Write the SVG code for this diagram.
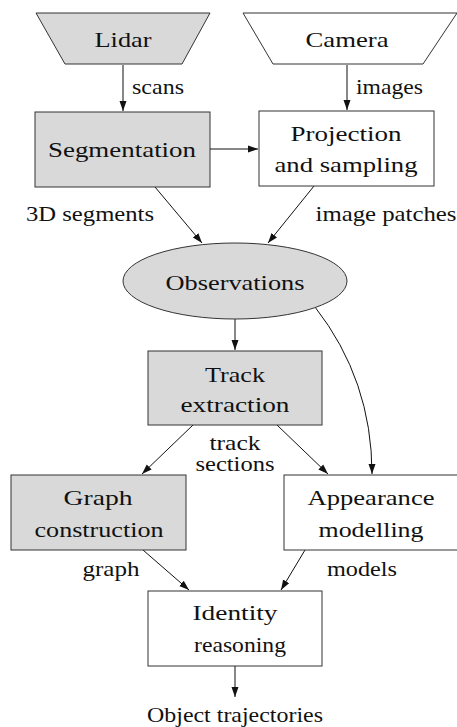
<svg xmlns="http://www.w3.org/2000/svg" width="457" height="727" viewBox="0 0 457 727" font-family="Liberation Serif, Times New Roman, DejaVu Serif, serif">
<style>
text{font-size:22px;fill:#111;text-anchor:middle}
.lbl{text-anchor:start}
.g{fill:#d9d9d9;stroke:#333;stroke-width:1}
.w{fill:#fff;stroke:#333;stroke-width:1}
.c{fill:none;stroke:#111;stroke-width:1;marker-end:url(#ah)}
</style>
<defs>
<marker id="ah" viewBox="0 0 10 10" refX="10" refY="5" markerWidth="10" markerHeight="10" markerUnits="userSpaceOnUse" orient="auto">
<path d="M0,1.5 L10,5 L0,8.5 Z" fill="#111"/>
</marker>
</defs>
<rect width="457" height="727" fill="#fff"/>
<g id="connectors">
<line class="c" x1="123" y1="65" x2="123" y2="111"/>
<line class="c" x1="347" y1="65" x2="347" y2="110"/>
<line class="c" x1="210" y1="149" x2="258" y2="149"/>
<line class="c" x1="155" y1="187" x2="202" y2="243"/>
<line class="c" x1="314" y1="186" x2="268" y2="243"/>
<line class="c" x1="235" y1="319" x2="235" y2="350"/>
<path class="c" d="M315,307 Q372,380 372,474"/>
<line class="c" x1="193" y1="425" x2="142" y2="474"/>
<line class="c" x1="277" y1="425" x2="328" y2="474"/>
<line class="c" x1="143" y1="550" x2="189" y2="590"/>
<line class="c" x1="305" y1="550" x2="281" y2="590"/>
<line class="c" x1="235" y1="666" x2="235" y2="697"/>
<text class="lbl" x="132" y="94" textLength="52" lengthAdjust="spacingAndGlyphs">scans</text>
<text class="lbl" x="356" y="94" textLength="67" lengthAdjust="spacingAndGlyphs">images</text>
<text x="90" y="221" textLength="128" lengthAdjust="spacingAndGlyphs">3D segments</text>
<text x="386" y="221" textLength="141" lengthAdjust="spacingAndGlyphs">image patches</text>
<text x="235" y="450" textLength="51" lengthAdjust="spacingAndGlyphs">track</text>
<text x="235" y="471" textLength="79" lengthAdjust="spacingAndGlyphs">sections</text>
<text x="111" y="576" textLength="57" lengthAdjust="spacingAndGlyphs">graph</text>
<text x="362" y="576" textLength="70" lengthAdjust="spacingAndGlyphs">models</text>
<text x="235" y="722" textLength="176" lengthAdjust="spacingAndGlyphs">Object trajectories</text>
</g>
<g id="lidar">
<polygon class="g" points="36,13 210,13 182,64 65,64"/>
<text x="123" y="47" textLength="57" lengthAdjust="spacingAndGlyphs">Lidar</text>
</g>
<g id="camera">
<polygon class="w" points="243,13 457,13 423,64 273,64"/>
<text x="347" y="47" textLength="83" lengthAdjust="spacingAndGlyphs">Camera</text>
</g>
<g id="segmentation">
<rect class="g" x="35" y="112" width="175" height="75"/>
<text x="122" y="157" textLength="148" lengthAdjust="spacingAndGlyphs">Segmentation</text>
</g>
<g id="projection">
<rect class="w" x="259" y="111" width="175" height="75"/>
<text x="346" y="141" textLength="111" lengthAdjust="spacingAndGlyphs">Projection</text>
<text x="346" y="172" textLength="143" lengthAdjust="spacingAndGlyphs">and sampling</text>
</g>
<g id="observations">
<ellipse class="g" cx="235" cy="281" rx="112" ry="38"/>
<text x="235" y="290" textLength="139" lengthAdjust="spacingAndGlyphs">Observations</text>
</g>
<g id="track">
<rect class="g" x="148" y="351" width="174" height="74"/>
<text x="235" y="382" textLength="60" lengthAdjust="spacingAndGlyphs">Track</text>
<text x="235" y="412" textLength="109" lengthAdjust="spacingAndGlyphs">extraction</text>
</g>
<g id="graph">
<rect class="g" x="11" y="475" width="175" height="75"/>
<text x="98" y="505" textLength="69" lengthAdjust="spacingAndGlyphs">Graph</text>
<text x="99" y="537" textLength="129" lengthAdjust="spacingAndGlyphs">construction</text>
</g>
<g id="appearance">
<rect class="w" x="284" y="475" width="175" height="75"/>
<text x="371" y="505" textLength="127" lengthAdjust="spacingAndGlyphs">Appearance</text>
<text x="371" y="537" textLength="105" lengthAdjust="spacingAndGlyphs">modelling</text>
</g>
<g id="identity">
<rect class="w" x="148" y="591" width="174" height="75"/>
<text x="235" y="620" textLength="85" lengthAdjust="spacingAndGlyphs">Identity</text>
<text x="240" y="652" textLength="92" lengthAdjust="spacingAndGlyphs">reasoning</text>
</g>
</svg>
